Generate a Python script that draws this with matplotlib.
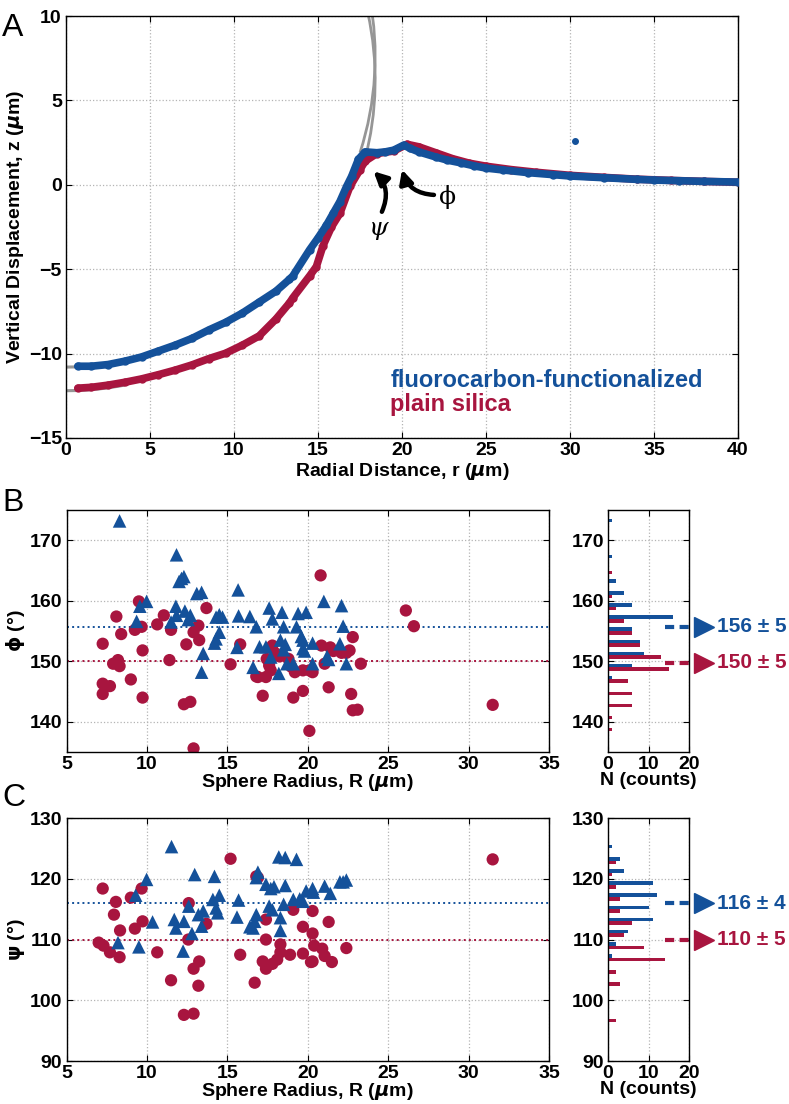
import numpy as np
import matplotlib.pyplot as plt
from matplotlib.patches import Arc

# colours
blue = '#14519a'
red = '#a8153f'
grey = '#969696'

# ---------------- panel A : profiles
r_fc = [0.7, 1.5, 2.5, 3.5, 4.5, 5.5, 6.5, 7.5, 8.5, 9.5, 10.5, 11.5, 12.5, 13.3, 13.5, 14.5,
        15.0, 15.5, 15.9, 16.3, 16.7, 17.0, 17.4, 17.8, 18.5, 19.0, 19.5, 20.1, 20.5, 21.0,
        22.0, 22.7, 23.5, 24.3, 25.0, 26.0, 27.5, 29.0, 30.0, 32.0, 34.0, 35.0, 36.5, 38.0, 40.0]
z_fc = [-10.75, -10.75, -10.65, -10.45, -10.2, -9.85, -9.5, -9.1, -8.6, -8.15, -7.6, -6.95, -6.3,
        -5.6, -5.4, -3.85, -3.15, -2.4, -1.7, -1.0, -0.1, 0.5, 1.5, 1.95, 1.9, 1.95, 2.05, 2.35,
        2.15, 1.95, 1.65, 1.46, 1.3, 1.12, 0.99, 0.88, 0.72, 0.6, 0.52, 0.42, 0.32, 0.28, 0.24, 0.2, 0.16]
r_si = [0.7, 1.5, 2.5, 3.5, 4.5, 5.5, 6.5, 7.5, 8.5, 9.5, 10.5, 11.5, 12.5, 13.3, 13.5, 14.5,
        14.9, 15.3, 15.8, 16.3, 16.9, 17.5, 17.8, 18.5, 19.5, 20.3, 21.0, 22.0, 23.0, 24.0,
        25.0, 26.5, 28.0, 30.0, 32.0, 34.0, 36.0, 38.0, 40.0]
z_si = [-12.05, -12.0, -11.87, -11.7, -11.5, -11.25, -10.98, -10.67, -10.3, -9.98, -9.5, -8.95,
        -7.95, -7.0, -6.7, -5.4, -4.85, -3.6, -2.5, -1.7, -0.1, 0.9, 1.4, 1.85, 2.0, 2.4, 2.25,
        1.9, 1.55, 1.28, 1.1, 0.9, 0.74, 0.56, 0.44, 0.33, 0.26, 0.2, 0.15]
r_out = [30.3]
z_out = [2.6]
# fitted spheres (centre height, radius, angle where the arc meets the ridge)
sphere_zc = [7.6, 6.2]
sphere_R = [18.4, 18.4]
sphere_start = [-18, -15]

# ---------------- panel B / C : contact angles vs sphere radius
R_fc_phi = [8.3, 11.84, 12.15, 12.0, 12.3, 13.1, 13.4, 9.98, 9.56, 9.36, 11.8, 11.84, 11.5, 12.36,
            12.7, 12.57, 14.5, 14.7, 14.3, 14.5, 14.2, 14.3, 13.5, 13.4, 15.67, 15.7, 16.4, 15.6,
            16.8, 16.6, 17.0, 17.6, 17.8, 17.4, 17.7, 18.4, 18.5, 18.3, 18.6, 18.5, 18.2, 18.7,
            19.1, 19.4, 19.3, 19.6, 19.7, 19.8, 19.9, 20.3, 20.3, 21.0, 21.2, 21.3, 22.1, 22.2,
            22.0, 22.4, 19.7]
phi_fc = [173.2, 167.6, 163.7, 163.2, 164.0, 161.2, 161.4, 159.9, 159.1, 156.6, 159.1, 157.6,
          156.5, 158.3, 157.6, 156.9, 157.7, 157.3, 157.3, 154.8, 153.0, 153.7, 151.3, 148.2,
          161.8, 157.5, 157.4, 152.3, 155.7, 149.0, 152.4, 158.8, 157.0, 152.4, 150.7, 158.1,
          155.7, 153.5, 152.8, 151.9, 148.0, 149.6, 149.6, 157.9, 155.7, 154.1, 152.1, 151.7,
          158.1, 153.0, 149.6, 159.9, 150.8, 150.3, 159.2, 155.8, 152.9, 149.6, 153.5]
R_si_phi = [7.25, 7.25, 7.25, 7.7, 8.1, 7.9, 8.2, 8.3, 8.4, 9.0, 9.25, 9.5, 9.67, 9.73, 9.73,
            10.64, 11.05, 11.4, 11.5, 12.45, 12.3, 12.7, 12.9, 12.9, 13.2, 13.25, 13.7, 15.2,
            15.8, 16.8, 16.9, 17.2, 17.4, 17.45, 17.6, 17.7, 17.8, 18.0, 18.25, 18.8, 18.98,
            19.2, 19.1, 19.7, 19.7, 20.1, 20.1, 20.3, 20.8, 20.85, 21.05, 21.3, 21.4, 21.6,
            22.1, 22.4, 22.6, 22.8, 22.7, 22.8, 23.1, 23.3, 26.1, 26.6, 31.5]
phi_si = [152.9, 146.3, 144.6, 145.9, 157.4, 149.6, 150.2, 149.2, 154.5, 147.0, 155.2, 159.9,
          155.7, 151.8, 144.0, 156.1, 157.6, 150.2, 155.2, 152.8, 142.9, 143.3, 135.6, 154.8,
          155.9, 153.5, 158.8, 149.5, 152.8, 147.5, 147.4, 144.3, 147.4, 150.4, 149.3, 148.5,
          152.6, 151.3, 150.8, 150.4, 149.1, 148.2, 144.0, 148.5, 145.1, 148.5, 138.5, 148.2,
          164.2, 152.6, 149.6, 145.7, 152.3, 151.7, 151.4, 151.4, 151.8, 154.0, 144.6, 141.9,
          142.0, 149.6, 158.4, 155.8, 142.8]

R_fc_psi = [11.53, 8.2, 9.3, 9.98, 9.5, 10.35, 11.7, 11.8, 12.3, 12.25, 12.8, 12.97, 12.6, 13.2,
            13.5, 13.4, 14.2, 14.1, 14.3, 14.5, 14.4, 15.7, 15.6, 16.4, 16.7, 16.8, 16.9, 16.8,
            17.4, 17.7, 17.6, 17.8, 18.3, 18.3, 18.2, 18.6, 19.3, 18.6, 17.9, 18.5, 19.1, 19.7,
            19.5, 19.9, 20.3, 20.35, 21.05, 21.4, 22.0, 22.4, 22.2, 16.6]
psi_fc = [125.3, 109.5, 117.3, 119.9, 108.8, 112.9, 113.3, 111.9, 113.0, 108.1, 111.0, 120.7,
          115.5, 114.1, 114.7, 112.2, 120.4, 116.6, 115.2, 117.3, 114.4, 116.5, 113.7, 112.1,
          113.0, 114.1, 121.1, 120.2, 119.1, 118.4, 115.5, 114.9, 113.6, 111.5, 123.6, 123.5,
          123.2, 118.9, 118.7, 115.8, 116.6, 116.3, 116.7, 118.0, 118.4, 117.8, 118.8, 117.6,
          119.5, 119.8, 119.5, 111.9]
R_si_psi = [7.25, 7.0, 7.3, 7.7, 8.07, 7.95, 8.3, 8.33, 9.0, 9.25, 9.67, 9.73, 10.64, 11.5, 12.3,
            12.9, 12.57, 12.6, 13.25, 12.9, 13.2, 13.7, 15.2, 15.8, 16.7, 16.8, 17.4, 17.4, 17.2,
            17.4, 17.8, 18.1, 18.3, 18.3, 18.9, 19.1, 19.7, 19.7, 20.2, 20.3, 20.3, 20.3, 20.4,
            20.9, 21.05, 21.3, 21.5, 22.4, 31.5, 16.9]
psi_si = [118.4, 109.5, 109.0, 107.9, 116.2, 114.1, 107.1, 111.5, 116.9, 111.8, 118.4, 113.0,
          107.9, 103.3, 97.6, 97.8, 110.0, 116.0, 106.4, 105.2, 102.4, 112.6, 123.3, 107.5,
          102.9, 120.4, 113.3, 110.0, 106.4, 105.2, 106.0, 106.7, 109.2, 107.9, 107.5, 114.9,
          112.1, 107.7, 106.3, 106.4, 114.7, 111.0, 109.0, 108.5, 107.3, 112.9, 106.3, 108.6,
          123.2, 120.2]

# histograms (2 degree bins, bin centres)
phi_bins_fc = [173, 167, 163, 161, 159, 157, 155, 153, 151, 149, 147]
phi_counts_fc = [1, 1, 2, 4, 6, 16, 6, 8, 9, 6, 1]
phi_bins_si = [165, 161, 159, 157, 155, 153, 151, 149, 147, 145, 143, 141, 139]
phi_counts_si = [1, 1, 2, 4, 6, 8, 13, 15, 5, 6, 6, 1, 1]
psi_bins_fc = [125, 123, 121, 119, 117, 115, 113, 111, 109, 107]
psi_counts_fc = [1, 3, 4, 11, 12, 10, 11, 5, 2, 1]
psi_bins_si = [123, 121, 119, 117, 115, 113, 111, 109, 107, 105, 103, 97]
psi_counts_si = [2, 1, 2, 3, 3, 6, 4, 9, 14, 2, 3, 2]

phi_mean = [155.7, 150.0]
psi_mean = [116.1, 110.0]
phi_text = ['156 ± 5', '150 ± 5']
psi_text = ['116 ± 4', '110 ± 5']

plt.rcParams['font.family'] = ['Liberation Sans', 'DejaVu Sans']
plt.rcParams['font.weight'] = 'bold'
plt.rcParams['axes.labelweight'] = 'bold'
plt.rcParams['mathtext.fontset'] = 'dejavusans'
plt.rcParams['axes.linewidth'] = 1.0
for a in ['xtick', 'ytick']:
    plt.rcParams[a + '.direction'] = 'in'
    plt.rcParams[a + '.labelsize'] = 14
    plt.rcParams[a + '.major.size'] = 4
    plt.rcParams[a + '.major.pad'] = 3
plt.rcParams['xtick.top'] = True
plt.rcParams['ytick.right'] = True

fig = plt.figure(figsize=(7.89, 11.04), dpi=100)


def style(ax):
    ax.grid(True, color='#b4b4b4', linestyle=':', linewidth=0.9)
    ax.set_axisbelow(True)


# ---------------- A
axA = fig.add_axes([0.0837, 0.6033, 0.8517, 0.3822])
style(axA)
for zc, R, t0 in zip(sphere_zc, sphere_R, sphere_start):
    axA.add_patch(Arc((0, zc), 2 * R, 2 * R, theta1=t0, theta2=40, color=grey, lw=2, zorder=1))
    axA.add_patch(Arc((0, zc), 2 * R, 2 * R, theta1=265, theta2=281, color=grey, lw=2.2, zorder=1))
axA.plot(r_si, z_si, '-o', color=red, lw=5.5, ms=5, zorder=2, solid_capstyle='round')
axA.plot(r_fc, z_fc, '-o', color=blue, lw=5.5, ms=5, zorder=3, solid_capstyle='round')
axA.plot(r_out, z_out, 'o', color=blue, ms=4, zorder=3)
axA.set_xlim(0, 40)
axA.set_ylim(-15, 10)
axA.set_xticks(range(0, 41, 5))
axA.set_yticks(range(-15, 11, 5))
axA.set_xlabel(r'Radial Distance, r ($\mu$m)', fontsize=14, labelpad=1)
axA.set_ylabel(r'Vertical Displacement, z ($\mu$m)', fontsize=14, labelpad=2)
axA.annotate('', xy=(18.3, 0.8), xytext=(18.8, -1.6),
             arrowprops=dict(arrowstyle='-|>', connectionstyle='arc3,rad=0.35', lw=3.2,
                             color='k', mutation_scale=20, shrinkA=0, shrinkB=0))
axA.annotate('', xy=(20.0, 0.9), xytext=(21.9, -0.6),
             arrowprops=dict(arrowstyle='-|>', connectionstyle='arc3,rad=-0.35', lw=3.2,
                             color='k', mutation_scale=20, shrinkA=0, shrinkB=0))
axA.text(18.6, -2.6, 'ψ', fontsize=18, family='DejaVu Serif', style='italic',
         fontweight='normal', ha='center', va='center')
axA.text(22.7, -0.7, 'ϕ', fontsize=18, family='DejaVu Serif', fontweight='normal',
         ha='center', va='center')
axA.text(19.3, -11.6, 'fluorocarbon-functionalized', color=blue, fontsize=17, va='center')
axA.text(19.3, -13.0, 'plain silica', color=red, fontsize=17, va='center')


# ---------------- B and C
def scatter_panel(rect, R_si, a_si, R_fc, a_fc, means, ylim, label):
    ax = fig.add_axes(rect)
    style(ax)
    ax.scatter(R_si, a_si, s=78, marker='o', color=red, edgecolors='none', zorder=2)
    ax.scatter(R_fc, a_fc, s=95, marker='^', color=blue, edgecolors='none', zorder=3)
    ax.axhline(means[0], color=blue, ls=':', lw=1.4, zorder=1)
    ax.axhline(means[1], color=red, ls=':', lw=1.4, zorder=1)
    ax.set_xlim(5, 35)
    ax.set_ylim(*ylim)
    ax.set_xticks(range(5, 36, 5))
    ax.set_yticks(range(ylim[0] + 5, ylim[1], 10))
    ax.set_xlabel(r'Sphere Radius, R ($\mu$m)', fontsize=14, labelpad=-1)
    ax.set_ylabel(label, fontsize=14, labelpad=2)
    return ax


def hist_panel(rect, bins_fc, n_fc, bins_si, n_si, means, texts, ylim):
    ax = fig.add_axes(rect)
    style(ax)
    ax.barh(np.array(bins_fc) + 0.3, n_fc, height=0.6, color=blue, zorder=2)
    ax.barh(np.array(bins_si) - 0.3, n_si, height=0.6, color=red, zorder=2)
    ax.set_xlim(0, 20)
    ax.set_ylim(*ylim)
    ax.set_xticks([0, 10, 20])
    ax.set_yticks(range(ylim[0] + 5, ylim[1], 10))
    ax.set_xlabel('N (counts)', fontsize=14, labelpad=-1)
    for m, t, c in zip(means, texts, [blue, red]):
        ax.plot([14.1, 21.6], [m, m], color=c, lw=3, ls=(0, (2.2, 1.3)), clip_on=False)
        ax.plot([23.6], [m], marker='>', color=c, ms=14, clip_on=False)
        ax.text(26.9, m, t, color=c, fontsize=15, va='center', ha='left')
    return ax


scatter_panel([0.0843, 0.3188, 0.6115, 0.2192], R_si_phi, phi_si, R_fc_phi, phi_fc,
              phi_mean, (135, 175), r'$\mathrm{\phi}$ (°)')
hist_panel([0.7706, 0.3188, 0.1027, 0.2192], phi_bins_fc, phi_counts_fc, phi_bins_si,
           phi_counts_si, [155.7, 149.8], phi_text, (135, 175))
axC = scatter_panel([0.0843, 0.0389, 0.6115, 0.2201], R_si_psi, psi_si, R_fc_psi, psi_fc,
                    psi_mean, (90, 130), r'$\mathrm{\psi}$ (°)')
axC.set_yticks(range(90, 131, 10))
axCh = hist_panel([0.7706, 0.0389, 0.1027, 0.2201], psi_bins_fc, psi_counts_fc, psi_bins_si,
                  psi_counts_si, [116.0, 110.0], psi_text, (90, 130))
axCh.set_yticks(range(90, 131, 10))

fig.text(0.003, 0.988, 'A', fontsize=23, fontweight='normal', va='top')
fig.text(0.003, 0.558, 'B', fontsize=23, fontweight='normal', va='top')
fig.text(0.003, 0.291, 'C', fontsize=23, fontweight='normal', va='top')

fig.savefig('out.png', dpi=100)
